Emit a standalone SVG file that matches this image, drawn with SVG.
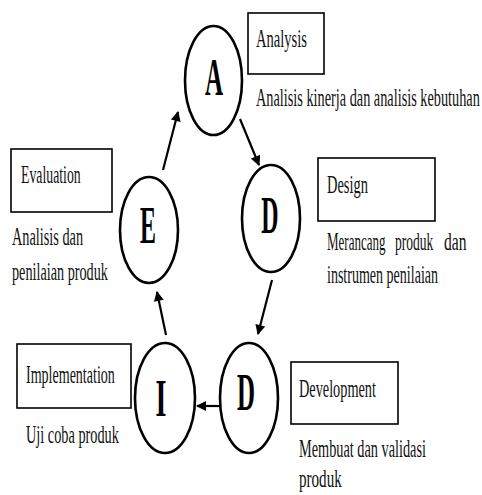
<svg xmlns="http://www.w3.org/2000/svg" width="482" height="495" viewBox="0 0 482 495">
<style>
.node ellipse{fill:#fff;stroke:#000;stroke-width:2.6}
.big{font-family:"Liberation Serif",serif;font-weight:bold;font-size:52px;fill:#000;text-anchor:middle}
.box{fill:#fff;stroke:#000;stroke-width:1.6}
.t{font-family:"Liberation Serif",serif;font-size:26px;fill:#111}
.conn line{stroke:#000;stroke-width:2.2}
</style>
<defs>
<marker id="ah" viewBox="0 0 10 10" refX="9" refY="5" markerWidth="11" markerHeight="10" markerUnits="userSpaceOnUse" orient="auto">
<path d="M0,0 L10,5 L0,10 z" fill="#000"/>
</marker>
</defs>
<g id="connectors" class="conn">
<line x1="163" y1="170" x2="178" y2="112" marker-end="url(#ah)"/>
<line x1="240" y1="119" x2="259" y2="165" marker-end="url(#ah)"/>
<line x1="272" y1="280" x2="258" y2="334" marker-end="url(#ah)"/>
<line x1="220" y1="406" x2="197" y2="406" stroke-width="3.6" marker-end="url(#ah)"/>
<line x1="166" y1="335" x2="157" y2="292" marker-end="url(#ah)"/>
</g>
<g id="node-A" class="node">
<ellipse cx="213.5" cy="80.5" rx="28.5" ry="54.5"/>
<text class="big" transform="translate(214 95) scale(0.48 1)">A</text>
</g>
<g id="node-D1" class="node">
<ellipse cx="271" cy="218.5" rx="29" ry="53.5"/>
<text class="big" transform="translate(270 233) scale(0.46 1)">D</text>
</g>
<g id="node-D2" class="node">
<ellipse cx="249" cy="398" rx="29" ry="55"/>
<text class="big" transform="translate(246 410) scale(0.48 1)">D</text>
</g>
<g id="node-I" class="node">
<ellipse cx="165" cy="398" rx="30" ry="55"/>
<text class="big" transform="translate(161 416) scale(0.54 1)">I</text>
</g>
<g id="node-E" class="node">
<ellipse cx="149" cy="230" rx="29" ry="53"/>
<text class="big" transform="translate(148 243) scale(0.46 1)">E</text>
</g>
<g id="label-analysis">
<rect class="box" x="248" y="13" width="76" height="61"/>
<text class="t" transform="translate(256 47) scale(0.56 1)">Analysis</text>
<text class="t" transform="translate(256 106) scale(0.55 1)">Analisis kinerja dan analisis kebutuhan</text>
</g>
<g id="label-design">
<rect class="box" x="318" y="158" width="117" height="63"/>
<text class="t" transform="translate(327 193) scale(0.556 1)">Design</text>
<text class="t" transform="translate(327 250) scale(0.5 1)">Merancang</text>
<text class="t" transform="translate(395 250) scale(0.52 1)">produk</text>
<text class="t" transform="translate(444 250) scale(0.6 1)">dan</text>
<text class="t" transform="translate(327 283) scale(0.54 1)">instrumen penilaian</text>
</g>
<g id="label-development">
<rect class="box" x="291" y="362" width="107" height="62"/>
<text class="t" transform="translate(299 397) scale(0.55 1)">Development</text>
<text class="t" transform="translate(299 457) scale(0.55 1)">Membuat dan validasi</text>
<text class="t" transform="translate(299 487) scale(0.58 1)">produk</text>
</g>
<g id="label-implementation">
<rect class="box" x="17" y="344" width="114" height="64"/>
<text class="t" transform="translate(26 383) scale(0.54 1)">Implementation</text>
<text class="t" transform="translate(26 443) scale(0.55 1)">Uji coba produk</text>
</g>
<g id="label-evaluation">
<rect class="box" x="11" y="149" width="101" height="63"/>
<text class="t" transform="translate(21 183) scale(0.53 1)">Evaluation</text>
<text class="t" transform="translate(12 245) scale(0.55 1)">Analisis dan</text>
<text class="t" transform="translate(12 280) scale(0.547 1)">penilaian produk</text>
</g>
</svg>
